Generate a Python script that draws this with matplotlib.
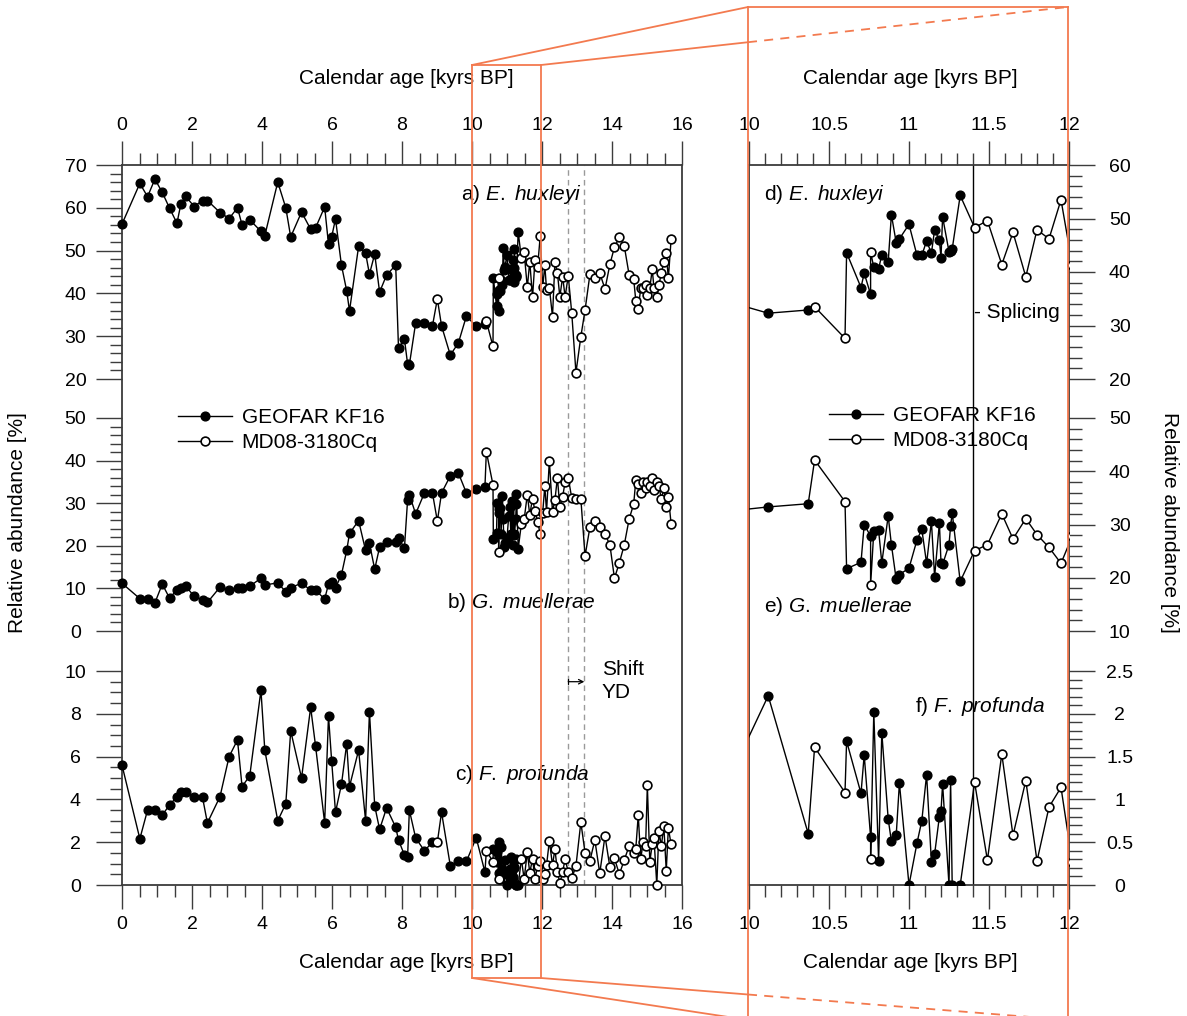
import matplotlib
matplotlib.use("Agg")
import matplotlib.pyplot as plt
from matplotlib.ticker import FuncFormatter
from matplotlib.lines import Line2D
import numpy as np

plt.rcParams["font.family"] = ["Liberation Sans", "DejaVu Sans"]
plt.rcParams["mathtext.fontset"] = "custom"
plt.rcParams["mathtext.rm"] = "Liberation Sans"
plt.rcParams["mathtext.it"] = "Liberation Sans:italic"
plt.rcParams["font.size"] = 14

# GEOFAR KF16 (black dots)
kf_age = [0.0, 0.51, 0.73, 0.94, 1.15, 1.36, 1.57, 1.68, 1.82, 2.06, 2.30, 2.44, 2.80, 3.06, 3.30, 3.43, 3.65,
          3.97, 4.08, 4.45, 4.68, 4.82, 5.13, 5.39, 5.53, 5.79, 5.90, 5.99, 6.10, 6.27, 6.42, 6.50, 6.76, 6.96,
          7.07, 7.22, 7.36, 7.56, 7.82, 7.90, 8.07, 8.16, 8.21, 8.39, 8.64, 8.87, 9.13, 9.38, 9.61, 9.84,
          10.12, 10.37, 10.61, 10.70, 10.72, 10.76, 10.78, 10.81, 10.83, 10.87, 10.89, 10.92, 10.94, 11.00,
          11.05, 11.08, 11.11, 11.14, 11.16, 11.19, 11.20, 11.21, 11.25, 11.26, 11.27, 11.32]
kf_ehux = [56.2, 65.7, 62.6, 66.7, 63.6, 59.9, 56.4, 60.8, 62.7, 60.3, 61.7, 61.7, 58.9, 57.5, 60.0, 56.0, 57.2,
           54.5, 53.5, 66.0, 60.0, 53.2, 59.0, 55.0, 55.3, 60.2, 51.5, 53.2, 57.4, 46.6, 40.6, 35.9, 51.0, 49.4,
           44.5, 49.2, 40.3, 44.3, 46.6, 27.2, 29.3, 23.5, 23.3, 33.1, 33.1, 32.4, 32.4, 25.6, 28.4, 34.7,
           32.3, 32.9, 43.6, 37.1, 39.8, 35.8, 40.9, 40.6, 43.2, 41.9, 50.7, 45.5, 46.2, 48.9,
           43.1, 43.1, 45.8, 43.5, 47.9, 45.9, 42.7, 50.3, 43.8, 44.0, 44.3, 54.3]
kf_gmuel = [11.2, 7.6, 7.6, 6.6, 11.0, 7.7, 9.7, 10.2, 10.6, 8.1, 7.3, 6.7, 10.3, 9.7, 10.0, 10.2, 10.5,
            12.4, 10.8, 11.3, 9.2, 10.2, 11.2, 9.6, 9.6, 7.5, 11.0, 11.5, 10.1, 13.2, 18.9, 22.9, 25.9, 18.9,
            20.6, 14.5, 19.7, 20.9, 20.9, 21.8, 19.5, 30.8, 32.0, 27.5, 32.4, 32.4, 32.4, 36.4, 37.1, 32.4,
            33.3, 33.9, 21.7, 22.9, 30.0, 27.8, 28.7, 28.9, 22.8, 31.6, 26.2, 19.7, 20.6, 21.8,
            27.1, 29.1, 22.7, 30.6, 20.2, 30.3, 22.8, 22.5, 26.2, 29.7, 32.2, 19.3]
kf_fprof = [5.6, 2.16, 3.5, 3.5, 3.27, 3.74, 4.13, 4.36, 4.36, 4.13, 4.1, 2.9, 4.13, 6.0, 6.78, 4.6, 5.1,
            9.1, 6.3, 3.0, 3.8, 7.2, 5.0, 8.3, 6.5, 2.9, 7.9, 5.8, 3.4, 4.7, 6.6, 4.6, 6.3, 3.0,
            8.1, 3.7, 2.6, 3.6, 2.7, 2.1, 1.4, 1.3, 3.5, 2.2, 1.6, 2.0, 3.4, 0.9, 1.1, 1.1,
            2.21, 0.60, 1.68, 1.07, 1.52, 0.56, 2.02, 0.28, 1.78, 0.77, 0.51, 0.58, 1.19, 0.0,
            0.49, 0.75, 1.29, 0.27, 0.36, 0.80, 0.86, 1.18, 0.0, 1.23, 0.0, 0.0]

# MD08-3180Cq (open circles)
md_age = [9.01, 10.41, 10.60, 10.76, 11.41, 11.49, 11.58, 11.65, 11.73, 11.80, 11.875, 11.95,
          12.02, 12.08, 12.13, 12.21, 12.30, 12.37, 12.44, 12.51, 12.59, 12.66, 12.75, 12.85, 12.97,
          13.11, 13.23, 13.37, 13.51, 13.65, 13.80, 13.94, 14.07, 14.21, 14.35, 14.49, 14.62, 14.68,
          14.75, 14.82, 14.89, 14.96, 15.01, 15.08, 15.15, 15.20, 15.28, 15.34, 15.41, 15.48, 15.55,
          15.61, 15.69]
md_ehux = [38.7, 33.5, 27.6, 43.7, 48.3, 49.6, 41.4, 47.4, 39.1, 47.9, 46.2, 53.5,
           41.4, 46.6, 40.8, 41.3, 34.6, 47.4, 44.8, 39.2, 43.9, 39.2, 44.1, 35.4, 21.5,
           29.9, 36.1, 44.5, 43.7, 44.8, 41.0, 46.8, 50.8, 53.1, 51.1, 44.3, 43.3, 38.3,
           36.4, 41.2, 41.3, 42.0, 39.6, 41.3, 45.6, 41.2, 39.2, 42.0, 44.7, 47.4, 49.4,
           43.5, 52.8]
md_gmuel = [25.8, 42.1, 34.3, 18.6, 25.1, 26.2, 32.0, 27.3, 31.1, 28.1, 25.7, 22.7,
            27.8, 34.0, 28.0, 40.0, 28.0, 30.8, 36.0, 29.0, 31.5, 35.0, 36.0, 31.2, 31.0,
            31.0, 17.6, 24.4, 25.8, 24.4, 22.8, 20.2, 12.4, 16.0, 20.2, 26.3, 29.8, 35.4,
            34.5, 32.5, 35.0, 33.5, 35.0, 34.0, 35.8, 33.0, 35.0, 34.0, 31.0, 33.5, 29.0,
            31.5, 25.1]
md_fprof = [2.0, 1.61, 1.08, 0.30, 1.20, 0.29, 1.53, 0.58, 1.22, 0.28, 0.91, 1.14,
            0.27, 0.50, 0.93, 2.06, 0.93, 1.68, 0.62, 0.08, 0.62, 1.20, 0.62, 0.31, 0.89,
            2.93, 1.51, 1.14, 2.10, 0.55, 2.29, 0.83, 1.25, 0.50, 1.17, 1.82, 1.48, 1.70,
            3.27, 1.20, 2.02, 1.82, 4.66, 1.09, 1.90, 2.18, 0.0, 2.54, 1.82, 2.77, 0.67,
            2.65, 1.90]

yd_shift = [12.75, 13.21]
splice_age = 11.4

W, H = 1187, 1016
fig = plt.figure(figsize=(W / 100, H / 100), dpi=100)


def box(x0, y0, x1, y1):
    return [x0 / W, 1 - y1 / H, (x1 - x0) / W, (y1 - y0) / H]


def fxy(x, y):
    return x / W, 1 - y / H


SPINE = "#3c3c3c"
ORANGE = "#f37a4f"
fmt = FuncFormatter(lambda v, p: f"{v:g}")
slots = [(165, 379), (418, 631), (671, 885)]
LX0, LX1 = 122, 682
RX0, RX1 = 749, 1069


def frame(x0, x1, lim, step, minor):
    ax = fig.add_axes(box(x0, 165, x1, 885))
    ax.set_xlim(*lim)
    ax.set_ylim(0, 1)
    ax.set_yticks([])
    ax.set_xticks(np.arange(lim[0], lim[1] + 1e-6, step))
    ax.set_xticks(np.arange(lim[0], lim[1] + 1e-6, minor), minor=True)
    ax.xaxis.set_major_formatter(fmt)
    ax.tick_params(axis="x", which="both", top=True, bottom=True, labeltop=True,
                   direction="out", color=SPINE, width=1)
    ax.tick_params(axis="x", which="major", length=17, pad=5)
    ax.tick_params(axis="x", which="minor", length=8.5)
    for s in ax.spines.values():
        s.set_color(SPINE)
        s.set_linewidth(1.3)
    return ax


def panel(x0, x1, slot, xlim, ylim, step, minor, side):
    ax = fig.add_axes(box(x0, slot[0], x1, slot[1]))
    ax.patch.set_alpha(0)
    ax.set_xlim(*xlim)
    ax.set_ylim(*ylim)
    for s in ax.spines.values():
        s.set_visible(False)
    ax.set_xticks([])
    ax.set_yticks(np.arange(ylim[0], ylim[1] + 1e-6, step))
    ax.set_yticks(np.arange(ylim[0], ylim[1] + 1e-6, minor), minor=True)
    ax.yaxis.set_major_formatter(fmt)
    ax.yaxis.set_ticks_position(side)
    ax.tick_params(axis="y", which="both", direction="out", color=SPINE, width=1)
    ax.tick_params(axis="y", which="major", length=18.5, pad=15 if side == "left" else 18)
    ax.tick_params(axis="y", which="minor", length=9)
    plt.setp(ax.get_yticklabels(), ha="center")
    return ax


def draw(ax, kx, ky, mx, my, clip=None):
    x = np.concatenate([kx, mx])
    y = np.concatenate([ky, my])
    o = np.argsort(x, kind="stable")
    arts = ax.plot(x[o], y[o], color="k", lw=1, zorder=2)
    arts += ax.plot(kx, ky, "o", ms=6.3, mfc="k", mec="k", mew=1, zorder=3)
    arts += ax.plot(mx, my, "o", ms=6.3, mfc="w", mec="k", mew=1.2, zorder=4)
    for a in arts:
        if clip is None:
            a.set_clip_on(False)
        else:
            a.set_clip_path(clip)


series = [(kf_ehux, md_ehux), (kf_gmuel, md_gmuel), (kf_fprof, md_fprof)]

# left panel (0-16 kyr)
lf = frame(LX0, LX1, (0, 16), 2, 0.5)
for xv in yd_shift:
    lf.axvline(xv, color="#9a9a9a", lw=1, ls=(0, (4, 3)))
left_specs = [((20, 70), 10, 2), ((0, 50), 10, 2), ((0, 10), 2, 0.5)]
left_axes = []
for slot, (ylim, st, mn), (k, m) in zip(slots, left_specs, series):
    ax = panel(LX0, LX1, slot, (0, 16), ylim, st, mn, "left")
    draw(ax, kf_age, k, md_age, m)
    left_axes.append(ax)

# right panel (10-12 kyr)
rf = frame(RX0, RX1, (10, 12), 0.5, 0.1)
rf.axvline(splice_age, color="k", lw=1)
right_specs = [((20, 60), 10, 2), ((10, 50), 10, 2), ((0, 2.5), 0.5, 0.1)]
right_axes = []
for slot, (ylim, st, mn), (k, m) in zip(slots, right_specs, series):
    ax = panel(RX0, RX1, slot, (10, 12), ylim, st, mn, "right")
    draw(ax, kf_age, k, md_age, m, clip=rf.patch)
    right_axes.append(ax)

# panel labels
labels = [("a) ", "E.", "huxleyi", 461, 195), ("b) ", "G.", "muellerae", 447, 602),
          ("c) ", "F.", "profunda", 455, 774), ("d) ", "E.", "huxleyi", 764, 195),
          ("e) ", "G.", "muellerae", 764, 607), ("f) ", "F.", "profunda", 915, 707)]
for pre, g, sp, x, y in labels:
    fig.text(*fxy(x, y), pre + r"$\mathit{" + g + "}$ $\mathit{" + sp + "}$",
             ha="left", va="center", fontsize=15)

fig.text(*fxy(974, 312), "- Splicing", ha="left", va="center", fontsize=15)
fig.text(*fxy(602, 681), "Shift\nYD", ha="left", va="center", fontsize=15, linespacing=1.3)
left_axes[2].annotate("", xy=(yd_shift[1], 9.5), xytext=(yd_shift[0], 9.5),
                      arrowprops=dict(arrowstyle="]->,widthA=0.25,lengthA=0",
                                      color="k", lw=0.9, shrinkA=0, shrinkB=0, mutation_scale=8))

for x in (406, 910):
    fig.text(*fxy(x, 78), "Calendar age [kyrs BP]", ha="center", va="center", fontsize=15)
    fig.text(*fxy(x, 962), "Calendar age [kyrs BP]", ha="center", va="center", fontsize=15)
fig.text(*fxy(18, 523), "Relative abundance [%]", rotation=90, ha="center", va="center", fontsize=15)
fig.text(*fxy(1170, 522), "Relative abundance [%]", rotation=-90, ha="center", va="center", fontsize=15)

# legends
handles = [Line2D([], [], color="k", lw=1, marker="o", ms=6.3, mfc="k", mec="k"),
           Line2D([], [], color="k", lw=1, marker="o", ms=6.3, mfc="w", mec="k", mew=1.2)]
names = ["GEOFAR KF16", "MD08-3180Cq"]
for x, y in ((178, 408), (829, 406)):
    fig.legend(handles, names, loc="upper left", bbox_to_anchor=fxy(x, y), frameon=False,
               borderpad=0, borderaxespad=0, handlelength=2.6, handletextpad=0.45,
               labelspacing=0.3, fontsize=15)

# orange zoom frames
ov = fig.add_axes([0, 0, 1, 1], zorder=10)
ov.set_xlim(0, W)
ov.set_ylim(H, 0)
ov.axis("off")
ov.patch.set_alpha(0)
lx0, lx1, ly0, ly1 = 472, 541, 65, 978
rx0, rx1, ry0, ry1 = 748, 1068, 7, 1020
kw = dict(color=ORANGE, lw=1.3, clip_on=False)
ov.plot([lx0, lx1, lx1, lx0, lx0], [ly0, ly0, ly1, ly1, ly0], **kw)
ov.plot([rx0, rx0], [ry0, ry1 + 20], **kw)
ov.plot([rx1, rx1], [ry0, ry1 + 20], **kw)
ov.plot([rx0, rx1], [ry0, ry0], **kw)
for ya, yb in ((ly0, ry0), (ly1, ry1)):
    ov.plot([lx0, rx0], [ya, yb], **kw)
    ym = ya + (yb - ya) * (rx0 - lx1) / (rx1 - lx1)
    ov.plot([lx1, rx0], [ya, ym], **kw)
    ov.plot([rx0, rx1], [ym, yb], ls=(0, (5, 4)), **kw)

fig.savefig("out.png", dpi=100)
